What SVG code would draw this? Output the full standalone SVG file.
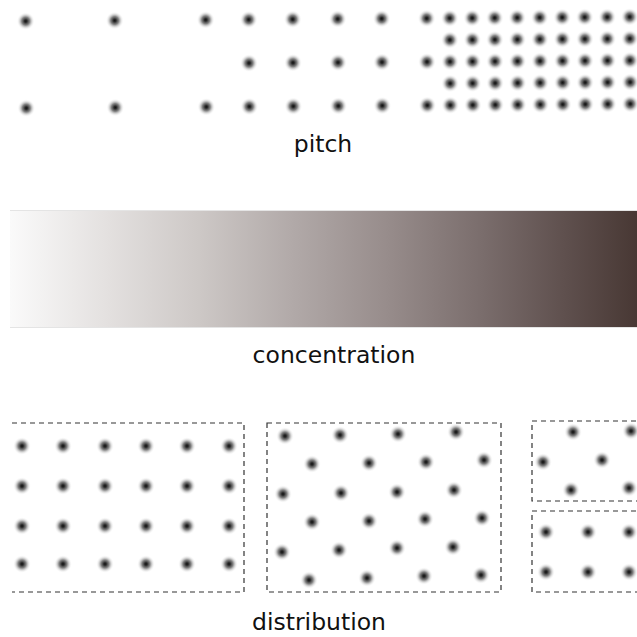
<svg xmlns="http://www.w3.org/2000/svg" width="637" height="637" viewBox="0 0 637 637">
<style>
.d{fill:url(#dot)}
.lbl{font-family:"DejaVu Sans","Liberation Sans",sans-serif;font-size:23.5px;fill:#111;text-anchor:middle}
.box{fill:none;stroke:#333;stroke-width:1.2;stroke-dasharray:5 4}
</style>
<defs>
<radialGradient id="dot">
<stop offset="0" stop-color="#111"/>
<stop offset="0.15" stop-color="#2a2a2a"/>
<stop offset="0.45" stop-color="#707070" stop-opacity="0.85"/>
<stop offset="0.75" stop-color="#c4c4c4" stop-opacity="0.4"/>
<stop offset="1" stop-color="#fff" stop-opacity="0"/>
</radialGradient>
<linearGradient id="conc" x1="0" x2="1" y1="0" y2="0">
<stop offset="0" stop-color="#fafafa"/>
<stop offset="0.15" stop-color="#e4e1e0"/>
<stop offset="0.3" stop-color="#cdc8c6"/>
<stop offset="0.45" stop-color="#b1a9a8"/>
<stop offset="0.6" stop-color="#978c8b"/>
<stop offset="0.75" stop-color="#7a6d6c"/>
<stop offset="0.88" stop-color="#5f504e"/>
<stop offset="1" stop-color="#473733"/>
</linearGradient>
</defs>
<rect width="637" height="637" fill="#fff"/>

<g id="pitch" transform="rotate(-0.4 330 62)">
<g id="pitch-wide">
<circle class="d" cx="26" cy="19" r="9"/><circle class="d" cx="115" cy="19" r="9"/><circle class="d" cx="206" cy="19" r="9"/>
<circle class="d" cx="26" cy="106" r="9"/><circle class="d" cx="115" cy="106" r="9"/><circle class="d" cx="206" cy="106" r="9"/>
</g>
<g id="pitch-medium">
<circle class="d" cx="249" cy="19" r="9"/><circle class="d" cx="293" cy="19" r="9"/><circle class="d" cx="338" cy="19" r="9"/><circle class="d" cx="382" cy="19" r="9"/><circle class="d" cx="427" cy="19" r="9"/>
<circle class="d" cx="249" cy="62.5" r="9"/><circle class="d" cx="293" cy="62.5" r="9"/><circle class="d" cx="338" cy="62.5" r="9"/><circle class="d" cx="382" cy="62.5" r="9"/><circle class="d" cx="427" cy="62.5" r="9"/>
<circle class="d" cx="249" cy="106" r="9"/><circle class="d" cx="293" cy="106" r="9"/><circle class="d" cx="338" cy="106" r="9"/><circle class="d" cx="382" cy="106" r="9"/><circle class="d" cx="427" cy="106" r="9"/>
</g>
<g id="pitch-dense">
<circle class="d" cx="450" cy="19" r="9"/><circle class="d" cx="472.5" cy="19" r="9"/><circle class="d" cx="495" cy="19" r="9"/><circle class="d" cx="517.5" cy="19" r="9"/><circle class="d" cx="540" cy="19" r="9"/><circle class="d" cx="562.5" cy="19" r="9"/><circle class="d" cx="585" cy="19" r="9"/><circle class="d" cx="607.5" cy="19" r="9"/><circle class="d" cx="630" cy="19" r="9"/>
<circle class="d" cx="450" cy="40.75" r="9"/><circle class="d" cx="472.5" cy="40.75" r="9"/><circle class="d" cx="495" cy="40.75" r="9"/><circle class="d" cx="517.5" cy="40.75" r="9"/><circle class="d" cx="540" cy="40.75" r="9"/><circle class="d" cx="562.5" cy="40.75" r="9"/><circle class="d" cx="585" cy="40.75" r="9"/><circle class="d" cx="607.5" cy="40.75" r="9"/><circle class="d" cx="630" cy="40.75" r="9"/>
<circle class="d" cx="450" cy="62.5" r="9"/><circle class="d" cx="472.5" cy="62.5" r="9"/><circle class="d" cx="495" cy="62.5" r="9"/><circle class="d" cx="517.5" cy="62.5" r="9"/><circle class="d" cx="540" cy="62.5" r="9"/><circle class="d" cx="562.5" cy="62.5" r="9"/><circle class="d" cx="585" cy="62.5" r="9"/><circle class="d" cx="607.5" cy="62.5" r="9"/><circle class="d" cx="630" cy="62.5" r="9"/>
<circle class="d" cx="450" cy="84.25" r="9"/><circle class="d" cx="472.5" cy="84.25" r="9"/><circle class="d" cx="495" cy="84.25" r="9"/><circle class="d" cx="517.5" cy="84.25" r="9"/><circle class="d" cx="540" cy="84.25" r="9"/><circle class="d" cx="562.5" cy="84.25" r="9"/><circle class="d" cx="585" cy="84.25" r="9"/><circle class="d" cx="607.5" cy="84.25" r="9"/><circle class="d" cx="630" cy="84.25" r="9"/>
<circle class="d" cx="450" cy="106" r="9"/><circle class="d" cx="472.5" cy="106" r="9"/><circle class="d" cx="495" cy="106" r="9"/><circle class="d" cx="517.5" cy="106" r="9"/><circle class="d" cx="540" cy="106" r="9"/><circle class="d" cx="562.5" cy="106" r="9"/><circle class="d" cx="585" cy="106" r="9"/><circle class="d" cx="607.5" cy="106" r="9"/><circle class="d" cx="630" cy="106" r="9"/>
</g>
</g>
<text id="label-pitch" class="lbl" x="323" y="152">pitch</text>

<g id="concentration">
<rect x="10" y="210" width="630" height="118" fill="url(#conc)"/>
<path d="M10 210.5 H637 M10 327.5 H637" stroke="#e4e4e4" stroke-width="1" fill="none"/>
</g>
<text id="label-concentration" class="lbl" x="334" y="363">concentration</text>

<g id="dist-square">
<path class="box" d="M12 423 H244 V592 H12"/>
<circle class="d" cx="22" cy="446" r="9"/><circle class="d" cx="63" cy="446" r="9"/><circle class="d" cx="105" cy="446" r="9"/><circle class="d" cx="146" cy="446" r="9"/><circle class="d" cx="187" cy="446" r="9"/><circle class="d" cx="229" cy="446" r="9"/>
<circle class="d" cx="22" cy="486" r="9"/><circle class="d" cx="63" cy="486" r="9"/><circle class="d" cx="105" cy="486" r="9"/><circle class="d" cx="146" cy="486" r="9"/><circle class="d" cx="187" cy="486" r="9"/><circle class="d" cx="229" cy="486" r="9"/>
<circle class="d" cx="22" cy="526" r="9"/><circle class="d" cx="63" cy="526" r="9"/><circle class="d" cx="105" cy="526" r="9"/><circle class="d" cx="146" cy="526" r="9"/><circle class="d" cx="187" cy="526" r="9"/><circle class="d" cx="229" cy="526" r="9"/>
<circle class="d" cx="22" cy="564" r="9"/><circle class="d" cx="63" cy="564" r="9"/><circle class="d" cx="105" cy="564" r="9"/><circle class="d" cx="146" cy="564" r="9"/><circle class="d" cx="187" cy="564" r="9"/><circle class="d" cx="229" cy="564" r="9"/>
</g>

<g id="dist-hex">
<rect class="box" x="267" y="423" width="234" height="169"/>
<circle class="d" cx="285" cy="436" r="9"/><circle class="d" cx="340" cy="435" r="9"/><circle class="d" cx="398" cy="434" r="9"/><circle class="d" cx="456" cy="432" r="9"/>
<circle class="d" cx="312" cy="464" r="9"/><circle class="d" cx="369" cy="463" r="9"/><circle class="d" cx="426" cy="462" r="9"/><circle class="d" cx="484" cy="460" r="9"/>
<circle class="d" cx="283" cy="494" r="9"/><circle class="d" cx="341" cy="493" r="9"/><circle class="d" cx="397" cy="492" r="9"/><circle class="d" cx="454" cy="490" r="9"/>
<circle class="d" cx="312" cy="522" r="9"/><circle class="d" cx="369" cy="521" r="9"/><circle class="d" cx="425" cy="519" r="9"/><circle class="d" cx="482" cy="518" r="9"/>
<circle class="d" cx="282" cy="552" r="9"/><circle class="d" cx="339" cy="550" r="9"/><circle class="d" cx="397" cy="548" r="9"/><circle class="d" cx="453" cy="547" r="9"/>
<circle class="d" cx="309" cy="580" r="9"/><circle class="d" cx="367" cy="578" r="9"/><circle class="d" cx="424" cy="576" r="9"/><circle class="d" cx="481" cy="575" r="9"/>
</g>

<g id="dist-partial-hex">
<path class="box" d="M645 421 H532 V501 H645"/>
<circle class="d" cx="573" cy="432" r="9"/><circle class="d" cx="631" cy="431" r="9"/>
<circle class="d" cx="543" cy="462" r="9"/><circle class="d" cx="602" cy="460" r="9"/>
<circle class="d" cx="571" cy="490" r="9"/><circle class="d" cx="629" cy="488" r="9"/>
</g>

<g id="dist-partial-square">
<path class="box" d="M645 511 H532 V592 H645"/>
<circle class="d" cx="546" cy="532" r="9"/><circle class="d" cx="588" cy="532" r="9"/><circle class="d" cx="629" cy="532" r="9"/>
<circle class="d" cx="546" cy="572" r="9"/><circle class="d" cx="588" cy="572" r="9"/><circle class="d" cx="629" cy="572" r="9"/>
</g>
<text id="label-distribution" class="lbl" x="319" y="630">distribution</text>
</svg>
